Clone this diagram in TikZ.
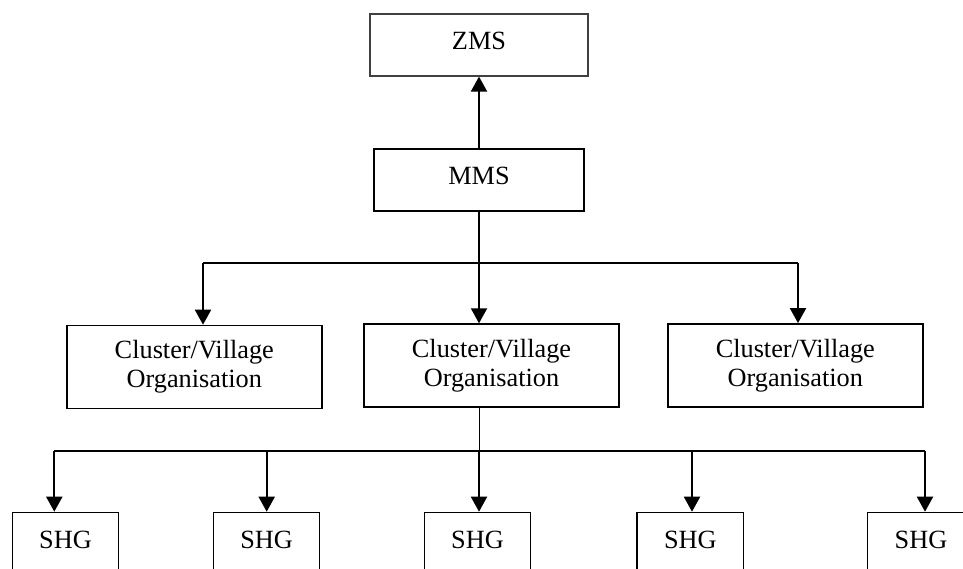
\documentclass[tikz,border=0pt]{standalone}
\usepackage{fontspec}
\setmainfont{Liberation Serif}
\usepackage{tikz}
\usetikzlibrary{positioning,arrows.meta,calc}

\begin{document}
\begin{tikzpicture}[
  x=0.5pt, y=-0.5pt,
  font=\fontsize{13.15}{14.5}\selectfont,
  box/.style={draw, line width=0.8pt, inner sep=0pt, align=center, text height=0.7em, text depth=0.25em},
  top/.style={box, draw=black!75, line width=0.6pt, minimum width=109pt, minimum height=31pt},
  mid/.style={box, minimum width=105pt, minimum height=31pt},
  cvo/.style={box, minimum width=127.6pt, minimum height=41.4pt, text height=, text depth=},
  shgbox/.style={draw, line width=0.65pt, inner xsep=0pt, inner ysep=0pt, minimum width=53.2pt, text height=18.15pt, text depth=22pt, anchor=north},
  link/.style={line width=0.85pt},
  stem/.style={line width=0.5pt},
  arr/.style={line width=1pt, -{Triangle[length=7.5pt,width=8pt]}}
]
\useasboundingbox (0,0) rectangle (963,568);
\clip (0,0) rectangle (963,568);
% Top of the hierarchy
\node[top] (zms) at (479,45) {ZMS};
\node[mid] (mms) at (479,180) {MMS};
% Cluster / village level
\node[cvo] (cvo1) at (194.3,366.9) {Cluster/Village\\Organisation};
\node[cvo] (cvo2) at (491.5,365.5) {Cluster/Village\\Organisation};
\node[cvo] (cvo3) at (795.3,365.3) {Cluster/Village\\Organisation};
% SHG level
\foreach \x [count=\i] in {65.5,266.6,477.5,690.3,921}
  \node[shgbox] (shg\i) at (\x,511.7) {SHG};
% Edges
\draw[arr] (mms) -- (zms);
\coordinate (c1) at (203,263);
\coordinate (c3) at (798,263);
\draw[link] (c1) -- (c3);
\draw[arr] (mms.south) -- (cvo2.north -| mms.south);
\draw[arr] (c1) -- (c1 |- cvo1.north);
\draw[arr] (c3) -- (c3 |- cvo3.north);
\foreach \x [count=\i] in {54.3,266.7,479,692,925} {
  \coordinate (s\i) at (\x,450.7);
  \draw[arr] (s\i) -- (s\i |- shg\i.north);
}
\draw[link] (s1) -- (s5);
\draw[stem] (cvo2.south -| s3) -- (s3);
\end{tikzpicture}
\end{document}
